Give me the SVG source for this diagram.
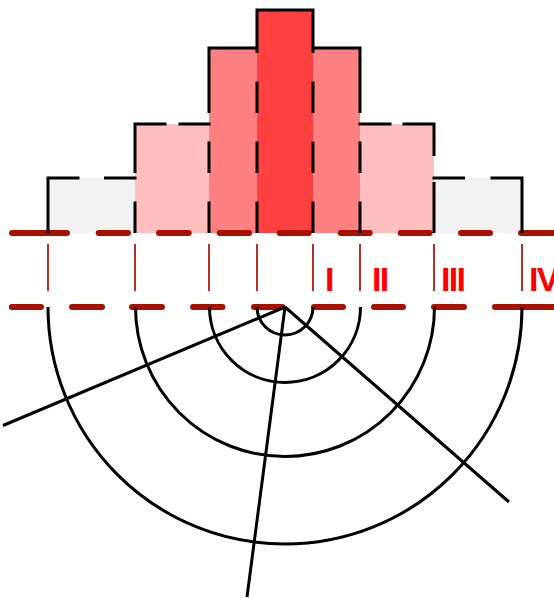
<svg xmlns="http://www.w3.org/2000/svg" width="554" height="598" viewBox="0 0 554 598">
<style>
.ink{fill:none;stroke:#000;stroke-width:3;stroke-linejoin:miter}
.guide{fill:none;stroke:#a81000;stroke-width:6;stroke-linecap:round}
.tick{fill:none;stroke:#a81000;stroke-width:1.7}
.lbl{font-family:"Liberation Sans",Arial,sans-serif;font-weight:bold;font-size:34px;letter-spacing:-1.75px;fill:#ff0000}
</style>
<rect width="554" height="598" fill="#fff"/>
<g id="bars">
<rect x="48" y="178" width="87" height="55" fill="#f2f2f2"/>
<rect x="135" y="124" width="74" height="109" fill="#ffbfbf"/>
<rect x="209" y="48" width="48" height="185" fill="#ff8080"/>
<rect x="257" y="10" width="56" height="223" fill="#ff4040"/>
<rect x="313" y="48" width="47" height="185" fill="#ff8080"/>
<rect x="360" y="124" width="74" height="109" fill="#ffbfbf"/>
<rect x="434" y="178" width="88" height="55" fill="#f2f2f2"/>
</g>
<g id="guides">
<path class="guide" d="M12 233H67M98.7 233H128M159 233H188.7M219.7 233H249M279.7 233H308.7M340.7 233H369.7M400.7 233H429.7M461 233H490M521 233H556"/>
<path class="guide" d="M11.8 307H41M72 307H102M132 307H162M193 307H222.4M254 307H282.5M314 307H343M374 307H403M434 307H464M495 307H557"/>
<path class="tick" d="M48 244V291M135 244V291M209 244V291M257 244V291M313 244V291M360 244V291M434 244V291M522 244V291"/>
</g>
<g id="outline">
<path class="ink" d="M48 233V178H79.5M104 178H136.5M135 233V201.5M135 173V124H166.5M178.5 124H210.5M209 113V48H257V10H313V48H360V113M257 48V53M313 48V53M257 81.5V113M313 81.5V113M209 141.5V173M257 141.5V173M313 141.5V173M360 141.5V173M209 201.5V233M257 201.5V233M313 201.5V233M360 201.5V233M358.5 124H391.5M402.5 124H434V156M434 182V233M432.5 178H465M490.5 178H522V233"/>
</g>
<g id="labels">
<text class="lbl" x="325" y="291">I</text>
<text class="lbl" x="372" y="291">II</text>
<text class="lbl" x="441" y="291">III</text>
<text class="lbl" x="529" y="291">IV</text>
</g>
<g id="arcs">
<path class="ink" d="M257 307A28 28 0 0 0 313 307"/>
<path class="ink" d="M209.5 307A75.5 75.5 0 0 0 360.5 307"/>
<path class="ink" d="M135.5 307A149.5 149.5 0 0 0 434.5 307"/>
<path class="ink" d="M48 307A237 237 0 0 0 522 307"/>
</g>
<g id="rays">
<path class="ink" d="M285 307L3 425.5M285 307L247 597M285 307L509 502"/>
</g>
</svg>
